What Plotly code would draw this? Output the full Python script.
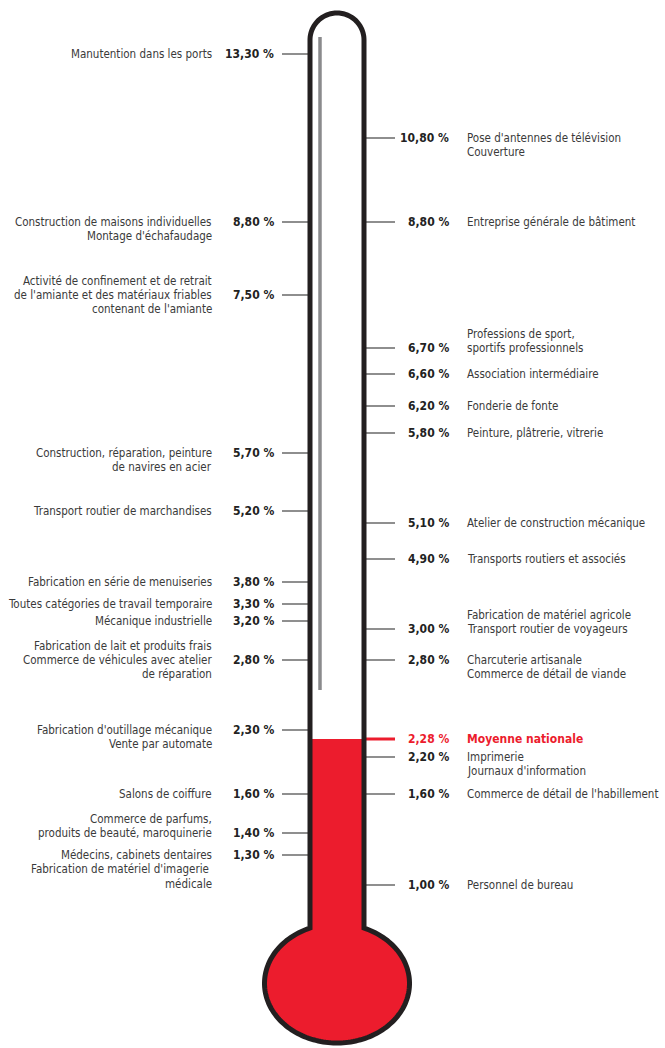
import numpy as np
import plotly.graph_objects as go

# ---------------- data ----------------
left_labels = [
    "Manutention dans les ports",
    "Construction de maisons individuelles<br>Montage d'échafaudage",
    "Activité de confinement et de retrait<br>de l'amiante et des matériaux friables<br>contenant de l'amiante",
    "Construction, réparation, peinture<br>de navires en acier",
    "Transport routier de marchandises",
    "Fabrication en série de menuiseries",
    "Toutes catégories de travail temporaire",
    "Mécanique industrielle",
    "Fabrication de lait et produits frais<br>Commerce de véhicules avec atelier<br>de réparation",
    "Fabrication d'outillage mécanique<br>Vente par automate",
    "Salons de coiffure",
    "Commerce de parfums,<br>produits de beauté, maroquinerie",
    "Médecins, cabinets dentaires<br>Fabrication de matériel d'imagerie <br>médicale",
]
left_values = [13.30, 8.80, 7.50, 5.70, 5.20, 3.80, 3.30, 3.20, 2.80, 2.30, 1.60, 1.40, 1.30]

right_labels = [
    "Pose d'antennes de télévision<br>Couverture",
    "Entreprise générale de bâtiment",
    "Professions de sport,<br>sportifs professionnels",
    "Association intermédiaire",
    "Fonderie de fonte",
    "Peinture, plâtrerie, vitrerie",
    "Atelier de construction mécanique",
    "Transports routiers et associés",
    "Fabrication de matériel agricole<br>Transport routier de voyageurs",
    "Charcuterie artisanale<br>Commerce de détail de viande",
    "Imprimerie<br>Journaux d'information",
    "Commerce de détail de l'habillement",
    "Personnel de bureau",
]
right_values = [10.80, 8.80, 6.70, 6.60, 6.20, 5.80, 5.10, 4.90, 3.00, 2.80, 2.20, 1.60, 1.00]

national_label = "Moyenne nationale"
national_value = 2.28

# ---------------- layout (label slots on the thermometer, page px) ----------------
left_slots = [54, 222, 295, 453, 511, 582, 604, 621, 660, 730, 794, 833, 855]
left_anchor_line = [0, 0, 1, 0, 0, 0, 0, 0, 1, 0, 0, 1, 0]
right_slots = [138, 222, 348, 374, 406, 433, 523, 559, 629, 660, 757, 794, 885]
right_anchor_line = [0, 0, 1, 0, 0, 0, 0, 0, 1, 0, 0, 0, 0]
national_slot = 739

W, H = 665, 1048
FONT = "Liberation Sans Narrow, Arial Narrow, DejaVu Sans Condensed, sans-serif"
LABEL_C = "#3a3a3a"
VALUE_C = "#222222"
RED = "#EC1C2D"
BLACK = "#231F20"
LINE_H = 14.3
LABEL_SIZE = 11.5
VALUE_SIZE = 12

def fmt(v):
    return f"{v:.2f}".replace(".", ",") + " %"

fig = go.Figure()

# ---------------- thermometer geometry ----------------
cx, half = 337, 27
top_cy = 40
neck_y = 928
ecy, ea, eb = 983.4, 72.5, 59.6
tj = np.arcsin(-np.sqrt(1 - (half / ea) ** 2))  # junction angle (right side)

def pts_to_path(xs, ys, close=True):
    p = "M " + " L ".join(f"{x:.2f},{y:.2f}" for x, y in zip(xs, ys))
    return p + (" Z" if close else "")

# bulb arc from right junction around bottom to left junction
t_b = np.linspace(tj, np.pi - tj, 160)
bx = cx + ea * np.cos(t_b)
by = ecy + eb * np.sin(t_b)

# red fill
fx = [cx + half, cx + half] + list(bx) + [cx - half]
fy = [national_slot, neck_y] + list(by) + [national_slot]
fig.add_shape(type="path", path=pts_to_path(fx, fy), fillcolor=RED,
              line=dict(width=0), xref="x", yref="y", layer="below")

# gray reflection bar
fig.add_shape(type="line", x0=320, x1=320, y0=37, y1=690, xref="x", yref="y",
              line=dict(color="#8a8a8c", width=3.5), layer="below")

# outline
t_t = np.linspace(np.pi, 0, 60)
ox = [cx - half, cx - half] + list(cx + half * np.cos(t_t)) + [cx + half] + list(bx)
oy = [neck_y, top_cy] + list(top_cy - half * np.sin(t_t)) + [neck_y] + list(by)
fig.add_shape(type="path", path=pts_to_path(ox, oy), fillcolor="rgba(0,0,0,0)",
              line=dict(color=BLACK, width=5), xref="x", yref="y", layer="above")

# ---------------- ticks ----------------
def tick_trace(x0, x1, slots, color, width):
    xs, ys = [], []
    for s in slots:
        xs += [x0, x1, None]
        ys += [s, s, None]
    return go.Scatter(x=xs, y=ys, mode="lines", line=dict(color=color, width=width),
                      hoverinfo="skip", showlegend=False)

fig.add_trace(tick_trace(282, 308, left_slots, "#444444", 1.2))
fig.add_trace(tick_trace(366, 395, right_slots, "#444444", 1.2))
fig.add_trace(tick_trace(366, 395, [national_slot], RED, 3))

# ---------------- text ----------------
annots = []

def add_text(x, y, text, anchor, color, size, bold=False):
    annots.append(dict(x=x, y=y, xref="x", yref="y", text=text, showarrow=False,
                       xanchor=anchor, yanchor="middle",
                       font=dict(family=FONT, size=size, color=color,
                                 weight="bold" if bold else "normal")))

def add_label(x, slot, label, anchor_line, xanchor):
    for i, line in enumerate(label.split("<br>")):
        add_text(x, slot + (i - anchor_line) * LINE_H, line, xanchor, LABEL_C, LABEL_SIZE)

for lab, val, s, a in zip(left_labels, left_values, left_slots, left_anchor_line):
    add_text(276, s, fmt(val), "right", VALUE_C, VALUE_SIZE, bold=True)
    add_label(214, s, lab, a, "right")

for lab, val, s, a in zip(right_labels, right_values, right_slots, right_anchor_line):
    add_text(451, s, fmt(val), "right", VALUE_C, VALUE_SIZE, bold=True)
    add_label(465, s, lab, a, "left")

add_text(451, national_slot, fmt(national_value), "right", RED, 12, bold=True)
add_text(465, national_slot, national_label, "left", RED, 12, bold=True)

fig.update_layout(
    width=W, height=H,
    margin=dict(l=0, r=0, t=0, b=0),
    paper_bgcolor="white", plot_bgcolor="white",
    xaxis=dict(range=[0, W], visible=False, fixedrange=True),
    yaxis=dict(range=[H, 0], visible=False, fixedrange=True),
    annotations=annots,
    showlegend=False,
)

fig.write_html("out.html", config={"displayModeBar": False},
               post_script="document.body.style.margin='0';document.body.style.overflow='hidden';")
